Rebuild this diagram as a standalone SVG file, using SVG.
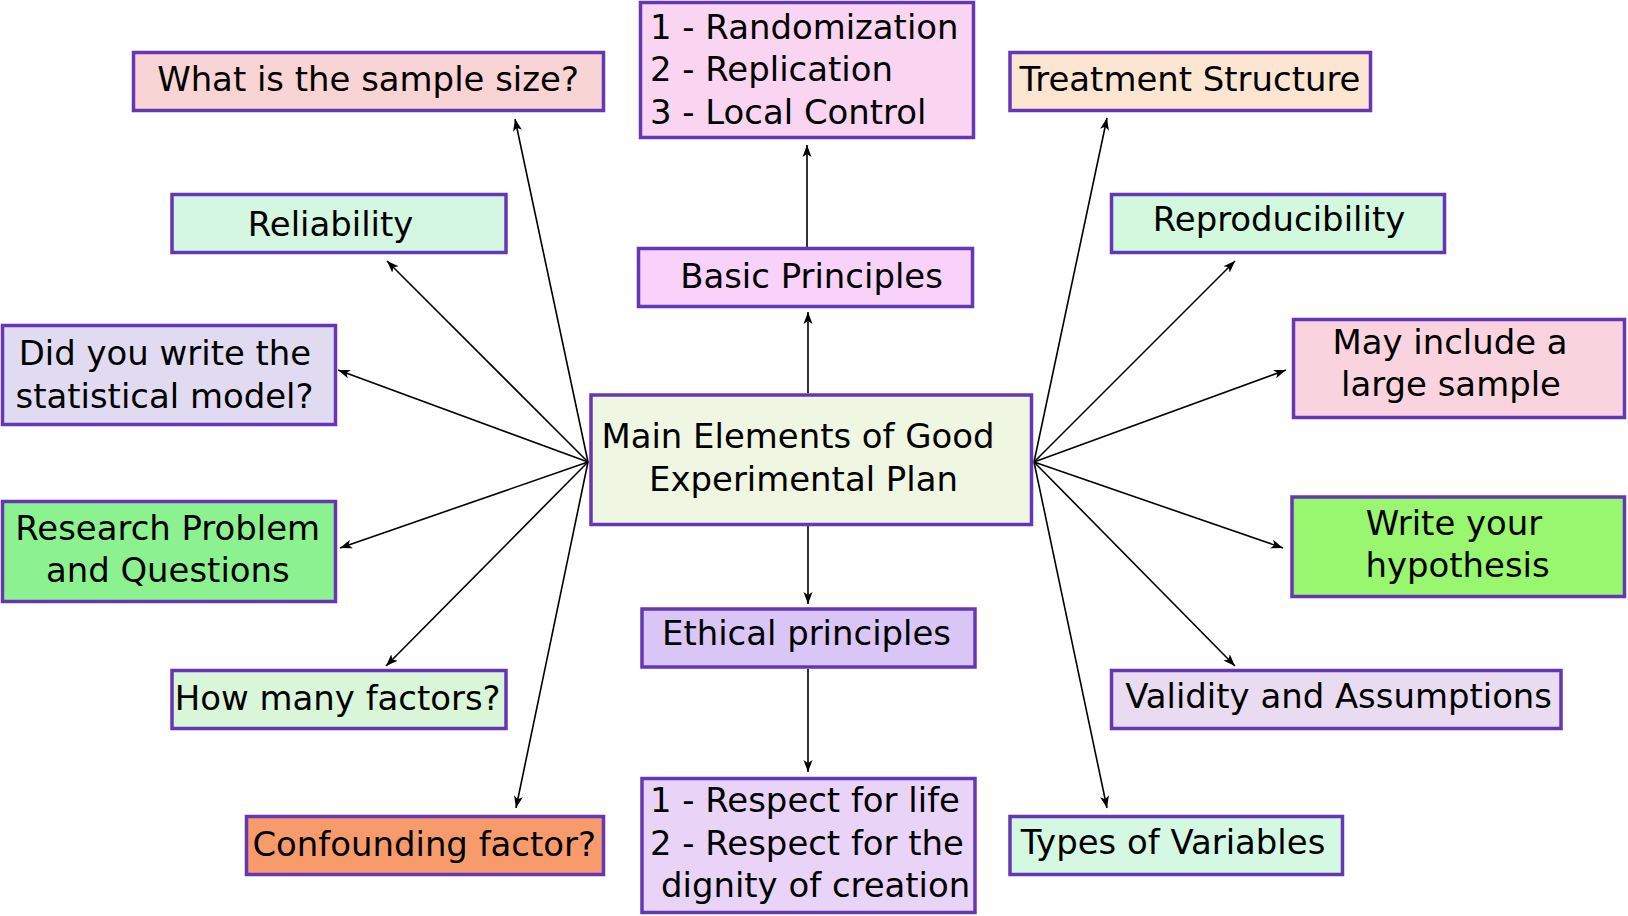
<svg xmlns="http://www.w3.org/2000/svg" width="1628" height="916" viewBox="0 0 1628 916">
<defs>
<style>
.box{stroke:#6637b5;stroke-width:3.5}
.t{font-family:"DejaVu Sans",Verdana,sans-serif;font-size:33.9px;fill:#000}
.c{text-anchor:middle}
.edge{stroke:#000;stroke-width:1.6;fill:none;marker-end:url(#arr)}
</style>
<marker id="arr" viewBox="-12 -6 13 12" markerWidth="13" markerHeight="12" refX="0" refY="0" orient="auto" markerUnits="userSpaceOnUse">
<path d="M-12,-4.5 L0,0 L-12,4.5 L-9,0 Z" fill="#000"/>
</marker>
</defs>
<rect width="1628" height="916" fill="#fff"/>
<g id="connectors">
<line class="edge" x1="588" y1="462" x2="515" y2="119"/>
<line class="edge" x1="588" y1="462" x2="387" y2="261"/>
<line class="edge" x1="588" y1="462" x2="338" y2="370"/>
<line class="edge" x1="588" y1="462" x2="340" y2="548"/>
<line class="edge" x1="588" y1="462" x2="386" y2="666"/>
<line class="edge" x1="588" y1="462" x2="516" y2="808"/>
<line class="edge" x1="1034" y1="462" x2="1107" y2="118"/>
<line class="edge" x1="1034" y1="462" x2="1235" y2="261"/>
<line class="edge" x1="1034" y1="462" x2="1286" y2="370"/>
<line class="edge" x1="1034" y1="462" x2="1283" y2="548"/>
<line class="edge" x1="1034" y1="462" x2="1235" y2="666"/>
<line class="edge" x1="1034" y1="462" x2="1107" y2="808"/>
<line class="edge" x1="808" y1="393" x2="808" y2="312"/>
<line class="edge" x1="807" y1="247" x2="807" y2="145"/>
<line class="edge" x1="808" y1="526" x2="808" y2="604"/>
<line class="edge" x1="808" y1="669" x2="808" y2="772"/>
</g>
<g id="main">
<rect class="box" x="591" y="395" width="440.5" height="129.5" fill="#eff7e3"/>
<text class="t c" x="798" y="448">Main Elements of Good</text>
<text class="t c" x="803.5" y="491">Experimental Plan</text>
</g>
<g id="sample-size">
<rect class="box" x="133.5" y="52.5" width="470" height="58" fill="#f9d4d4"/>
<text class="t c" x="368" y="91">What is the sample size?</text>
</g>
<g id="reliability">
<rect class="box" x="172" y="194.5" width="334" height="58" fill="#d4f7e2"/>
<text class="t c" x="330.6" y="235.5">Reliability</text>
</g>
<g id="statistical-model">
<rect class="box" x="2.5" y="325.5" width="333" height="99" fill="#e1dbf1"/>
<text class="t c" x="165" y="365">Did you write the</text>
<text class="t c" x="164.5" y="407.5">statistical model?</text>
</g>
<g id="research-problem">
<rect class="box" x="2.5" y="501.5" width="333" height="100" fill="#8cf28f"/>
<text class="t c" x="167.7" y="539.5">Research Problem</text>
<text class="t c" x="167.8" y="581.5">and Questions</text>
</g>
<g id="factors">
<rect class="box" x="172" y="670.5" width="334" height="58" fill="#d9f6d9"/>
<text class="t c" x="337.7" y="710">How many factors?</text>
</g>
<g id="confounding">
<rect class="box" x="246.5" y="816.5" width="357" height="58" fill="#f89b6a"/>
<text class="t c" x="424.2" y="855.5">Confounding factor?</text>
</g>
<g id="principles-list">
<rect class="box" x="640.5" y="2.5" width="333" height="135" fill="#f9d5f1"/>
<text class="t" x="650" y="39">1 - Randomization</text>
<text class="t" x="650" y="81.3">2 - Replication</text>
<text class="t" x="650" y="124">3 - Local Control</text>
</g>
<g id="basic-principles">
<rect class="box" x="638.5" y="248.5" width="334" height="58" fill="#f9d2fa"/>
<text class="t c" x="811.5" y="288">Basic Principles</text>
</g>
<g id="ethical-principles">
<rect class="box" x="642" y="609" width="333" height="58" fill="#d9c5f6"/>
<text class="t c" x="806.5" y="644.5">Ethical principles</text>
</g>
<g id="respect">
<rect class="box" x="642" y="778.5" width="333" height="134" fill="#e9d4f8"/>
<text class="t" x="650" y="812.3">1 - Respect for life</text>
<text class="t" x="650" y="855">2 - Respect for the</text>
<text class="t" x="661" y="897.3">dignity of creation</text>
</g>
<g id="treatment">
<rect class="box" x="1010" y="52.5" width="360.5" height="58" fill="#fde6d1"/>
<text class="t c" x="1190" y="91.3">Treatment Structure</text>
</g>
<g id="reproducibility">
<rect class="box" x="1111.5" y="194.5" width="333" height="58" fill="#d2f9de"/>
<text class="t c" x="1279" y="230.5">Reproducibility</text>
</g>
<g id="large-sample">
<rect class="box" x="1293.5" y="319.5" width="331" height="98" fill="#f9d3de"/>
<text class="t c" x="1450" y="354">May include a</text>
<text class="t c" x="1451" y="396.3">large sample</text>
</g>
<g id="hypothesis">
<rect class="box" x="1292" y="497" width="332.5" height="99.5" fill="#98f66f"/>
<text class="t c" x="1454" y="535">Write your</text>
<text class="t c" x="1457.6" y="576.7">hypothesis</text>
</g>
<g id="validity">
<rect class="box" x="1111.5" y="670.5" width="449.5" height="58" fill="#e9dcf0"/>
<text class="t c" x="1338.6" y="708.3">Validity and Assumptions</text>
</g>
<g id="variables">
<rect class="box" x="1010" y="816.5" width="332.5" height="58" fill="#d4f8e2"/>
<text class="t c" x="1173" y="854">Types of Variables</text>
</g>
</svg>
